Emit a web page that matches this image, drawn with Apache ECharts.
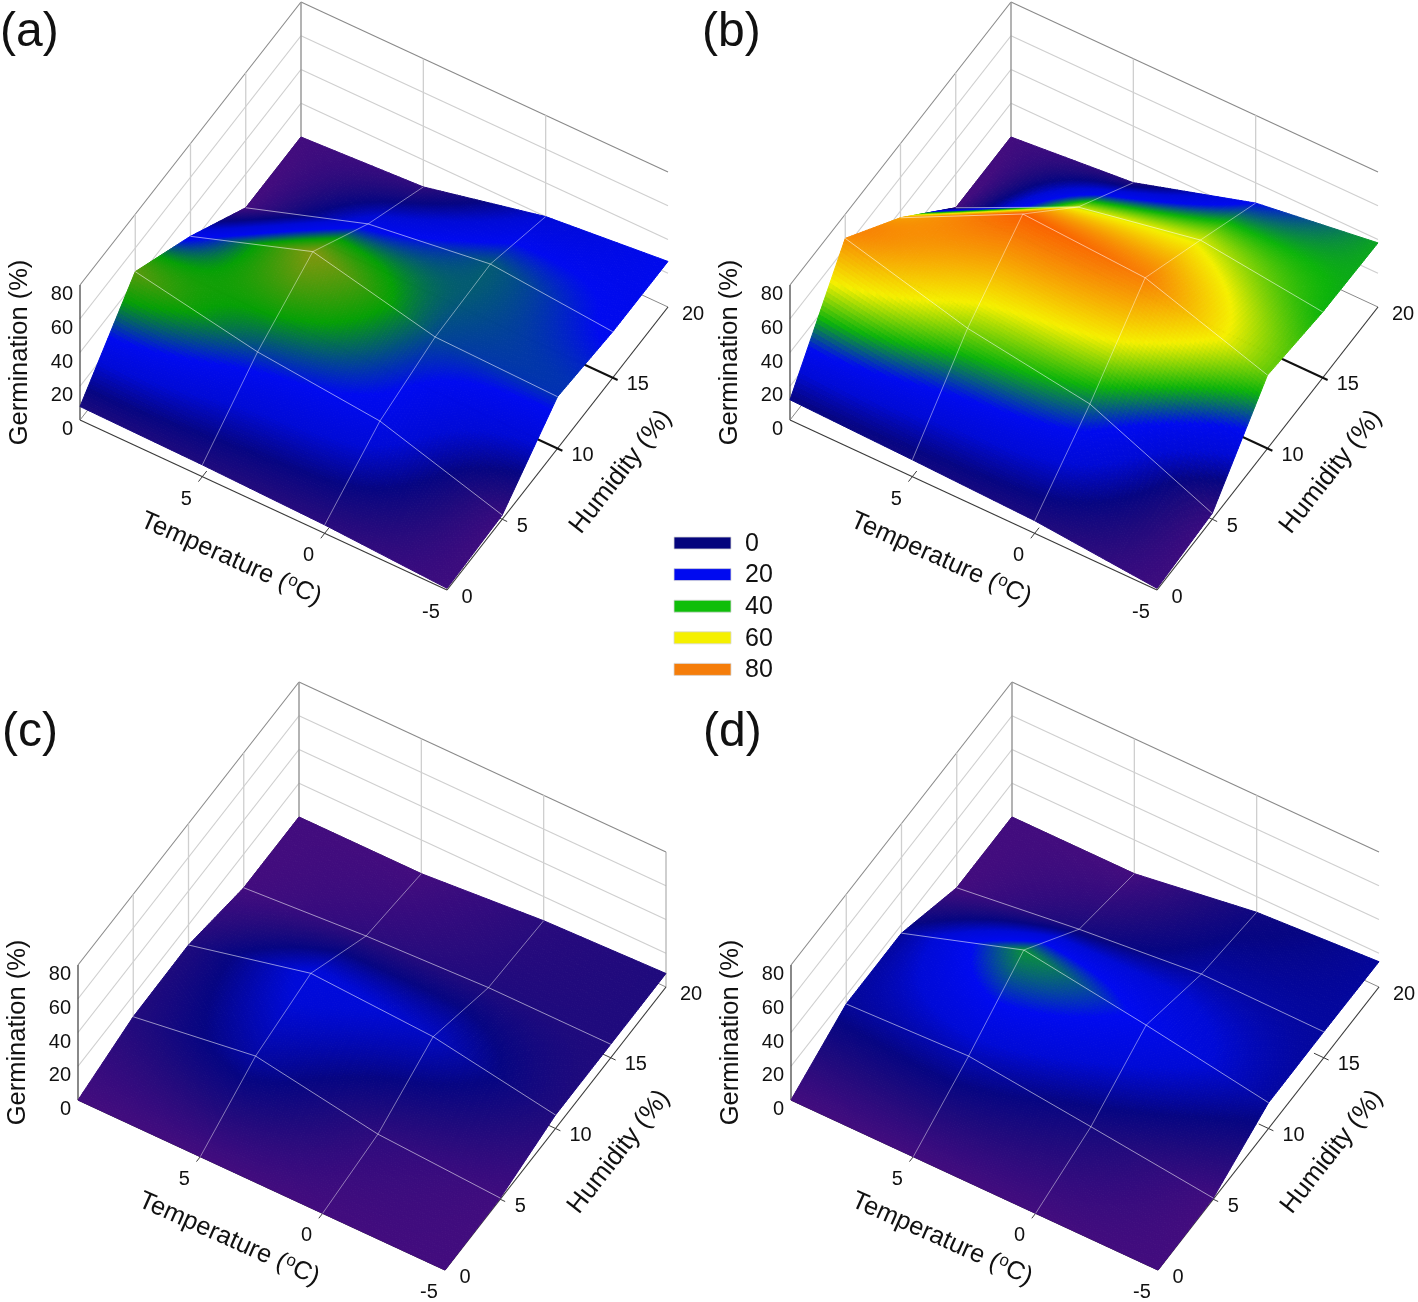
<!DOCTYPE html>
<html><head><meta charset="utf-8">
<style>html,body{margin:0;padding:0;background:#fff}#c{width:1418px;height:1302px}</style>
<script src="https://cdn.jsdelivr.net/npm/echarts@6/dist/echarts.min.js"></script>
</head><body><div id="c"></div>
<script>
const temperatures = [10, 5, 0, -5];
const humidities = [20, 15, 10, 5, 0];
const tempTicks = [5, 0, -5];
const humTicks = [0, 5, 10, 15, 20];
const germTicks = [0, 20, 40, 60, 80];
const panelNames = ['(a)', '(b)', '(c)', '(d)'];
// rows follow humidities (20 -> 0), columns follow temperatures (10 -> -5)
const germinationA = [
  [0, 4, 20, 27],
  [0, 24, 33.8, 27.3],
  [25, 49.5, 32.5, 30.7],
  [46, 32, 24.6, 2.5],
  [8, 7, 5, 1]
];
const germinationB = [
  [0, 6.5, 28, 38],
  [0, 34, 48, 39],
  [36, 71.8, 67.6, 43.5],
  [65.7, 46, 34.7, 3.5],
  [12, 10, 7.5, 1]
];
// colour shown at each node of panel (b), read separately from its height
const shadeB = [
  [0, 6.5, 28, 38],
  [0, 48, 50, 39],
  [62, 71.8, 67.6, 43.5],
  [65.7, 46, 34.7, 3.5],
  [12, 10, 7.5, 1]
];
const germinationC = [
  [0, 0, 5.7, 8],
  [0, 5, 8, 8],
  [8, 24.8, 20.8, 8],
  [7.4, 17.7, 5, 0.7],
  [0, 0, 0, 0]
];
const germinationD = [
  [0, 0, 10.7, 15],
  [0, 9, 16, 15.4],
  [15, 38.6, 27.7, 15.3],
  [15, 17.7, 9.4, 0.7],
  [0, 0, 0, 0]
];
const legendValues = [0, 20, 40, 60, 80];
const legendColors = ['#05057d', '#000af0', '#0fbe0a', '#f5f000', '#f57d0a'];

const grids = [germinationA, germinationB, germinationC, germinationD];
const shades = [germinationA, shadeB, germinationC, germinationD];
const panelOffsets = [[0, 0], [710, 0], [-2, 680], [711, 680]];
const colorGain = [1, 1, 0.86, 0.95];
const lowStops = [[0, [66, 12, 126]], [7, [30, 10, 125]], [12, [6, 5, 130]], [20, [0, 10, 215]], [28, [0, 10, 240]]];
const brightStops = lowStops.concat([[39, [12, 180, 10]], [52, [245, 240, 0]], [68, [248, 125, 5]], [72, [250, 95, 0]], [100, [240, 40, 0]]]);
const oliveStops = lowStops.concat([[39, [5, 160, 5]], [50, [135, 150, 15]], [100, [240, 40, 0]]]);
const panelStops = [oliveStops, brightStops, brightStops, brightStops];
const FONT = '"Liberation Sans", Arial, sans-serif';
const SUB = 36;
const SMOOTH = 0.4;

function project(p, T, H, G) {
  const u = (T + 5) / 15, v = H / 20, o = panelOffsets[p];
  return [447 + o[0] - 367 * u + 221 * v, 590 + o[1] - 170 * u - 283 * v - G * 135 / 80];
}
function colorOf(p, g) {
  const stops = panelStops[p];
  g = Math.max(0, g * colorGain[p]);
  for (let i = 1; i < stops.length; i++) {
    if (g <= stops[i][0]) {
      const a = stops[i - 1], b = stops[i], t = (g - a[0]) / (b[0] - a[0]);
      return 'rgb(' + [0, 1, 2].map(k => Math.round(a[1][k] + (b[1][k] - a[1][k]) * t)).join(',') + ')';
    }
  }
  return 'rgb(240,40,0)';
}
function cr(a, b, c, d, t) {
  return 0.5 * (2 * b + (c - a) * t + (2 * a - 5 * b + 4 * c - d) * t * t + (3 * b - a - 3 * c + d) * t * t * t);
}
function smoothValue(M, r, c, s, t) {
  const R = i => Math.min(M.length - 1, Math.max(0, i));
  const C = j => Math.min(M[0].length - 1, Math.max(0, j));
  const rows = [-1, 0, 1, 2].map(dr => {
    const row = M[R(r + dr)];
    return cr(row[C(c - 1)], row[C(c)], row[C(c + 1)], row[C(c + 2)], t);
  });
  return cr(rows[0], rows[1], rows[2], rows[3], s);
}
function flatValue(M, r, c, s, t) {
  return (1 - s) * ((1 - t) * M[r][c] + t * M[r][c + 1]) + s * ((1 - t) * M[r + 1][c] + t * M[r + 1][c + 1]);
}
function surfaceSeries(p) {
  const M = grids[p], S = shades[p], cells = [];
  for (let r = 0; r < humidities.length - 1; r++)
    for (let c = 0; c < temperatures.length - 1; c++) cells.push([r, c]);
  return {
    type: 'custom', coordinateSystem: 'cartesian2d', silent: true, animation: false, progressive: 0, z: 3, clip: false,
    data: cells,
    renderItem: function (params, api) {
      const r = api.value(0), c = api.value(1), kids = [];
      const H0 = humidities[r], H1 = humidities[r + 1], T0 = temperatures[c], T1 = temperatures[c + 1];
      const pt = (i, j) => {
        const s = i / SUB, t = j / SUB;
        return api.coord(project(p, T0 + (T1 - T0) * t, H0 + (H1 - H0) * s, flatValue(M, r, c, s, t)));
      };
      for (let i = 0; i < SUB; i++) for (let j = 0; j < SUB; j++) {
        const s = (i + .5) / SUB, t = (j + .5) / SUB;
        const v = SMOOTH * smoothValue(S, r, c, s, t) + (1 - SMOOTH) * flatValue(S, r, c, s, t);
        const col = colorOf(p, v);
        kids.push({
          type: 'polygon', shape: { points: [pt(i, j), pt(i, j + 1), pt(i + 1, j + 1), pt(i + 1, j)] },
          style: { fill: col, stroke: col, lineWidth: 1 }, silent: true
        });
      }
      return { type: 'group', children: kids };
    }
  };
}
function lineSeries(z, list) {
  return {
    type: 'custom', coordinateSystem: 'cartesian2d', silent: true, animation: false, progressive: 0, z: z, clip: false,
    data: list.map((_, i) => [i]),
    renderItem: function (params, api) {
      const l = list[api.value(0)];
      const a = api.coord(project(l.p, l.a[0], l.a[1], l.a[2])), b = api.coord(project(l.p, l.b[0], l.b[1], l.b[2]));
      return {
        type: 'line', shape: { x1: a[0], y1: a[1], x2: b[0], y2: b[1] },
        style: { stroke: l.c, lineWidth: l.w, lineCap: 'butt' }, silent: true
      };
    }
  };
}
const under = [], over = [];
function add(list, p, a, b, c, w) { list.push({ p, a, b, c, w }); }
const Tb = 10, Tf = -5, H0 = 0, Hb = 20, Gt = 80;
panelNames.forEach((_, p) => {
  const wall = '#cfcfcf', rim = '#8a8a8a', dark = '#3a3a3a';
  [20, 40, 60].forEach(g => {
    add(under, p, [Tb, H0, g], [Tb, Hb, g], wall, 1.2);
    add(under, p, [Tb, Hb, g], [Tf, Hb, g], wall, 1.2);
  });
  add(under, p, [Tb, H0, Gt], [Tb, Hb, Gt], rim, 1.1);
  add(under, p, [Tb, Hb, Gt], [Tf, Hb, Gt], rim, 1.1);
  [5, 10, 15].forEach(h => add(under, p, [Tb, h, 0], [Tb, h, Gt], wall, 1.3));
  [5, 0].forEach(t => add(under, p, [t, Hb, 0], [t, Hb, Gt], wall, 1.3));
  add(under, p, [Tb, Hb, 0], [Tb, Hb, Gt], '#9a9a9a', 1.5);
  add(under, p, [Tb, H0, 0], [Tb, H0, Gt], dark, 1.2);
  if (p === 2) add(under, p, [Tf, Hb, 0], [Tf, Hb, Gt], '#a8a8a8', 1.1);
  add(under, p, [Tb, H0, 0], [Tb, Hb, 0], rim, 1);
  add(under, p, [Tb, Hb, 0], [Tf, Hb, 0], rim, 1);
  add(under, p, [Tb, H0, 0], [Tf, H0, 0], dark, 1.2);
  add(under, p, [Tf, H0, 0], [Tf, Hb, 0], dark, 1.2);
  [10, 15].forEach(h => {
    if (p < 2) add(under, p, [Tb, h, 0], [Tf - 0.2, h, 0], '#111', 2);
    else add(under, p, [Tf + 0.4, h, 0], [Tf - 0.2, h, 0], dark, 1);
  });
  add(under, p, [Tf + 0.3, 5, 0], [Tf - 0.2, 5, 0], dark, 1);
  [5, 0].forEach(t => add(under, p, [t, H0 - 0.35, 0], [t, H0 + 0.4, 0], dark, 1));
  const M = grids[p];
  humidities.forEach((h, r) => {
    if (h === 0 || h === 20) return;
    for (let c = 0; c < temperatures.length - 1; c++)
      add(over, p, [temperatures[c], h, M[r][c]], [temperatures[c + 1], h, M[r][c + 1]], 'rgba(255,255,255,0.55)', 1);
  });
  temperatures.forEach((t, c) => {
    if (t === 10 || t === -5) return;
    for (let r = 0; r < humidities.length - 1; r++)
      add(over, p, [t, humidities[r], M[r][c]], [t, humidities[r + 1], M[r + 1][c]], 'rgba(255,255,255,0.45)', 1);
  });
});

const labels = [];
panelNames.forEach((name, p) => {
  const o = panelOffsets[p];
  labels.push({ text: name, abs: [[0, 702, 2, 703][p], [33, 33, 733, 733][p]], size: 48, align: 'left' });
  germTicks.forEach(g => { const q = project(p, 10, 0, g); labels.push({ text: String(g), abs: [q[0] - 7, q[1] + 9.5], size: 20, align: 'right' }); });
  tempTicks.forEach(t => { const q = project(p, t, 0, 0); labels.push({ text: String(t), abs: [q[0] - 16, q[1] + 22.5], size: 20, align: 'center' }); });
  humTicks.forEach(h => { const q = project(p, -5, h, 0); labels.push({ text: String(h), abs: [q[0] + (h < 10 ? 20 : 25), q[1] + 7], size: 20, align: 'center' }); });
  labels.push({ text: 'Germination (%)', abs: [20 + o[0], 352.5 + o[1]], size: 25.5, align: 'center', rot: 90 });
  labels.push({ text: 'Humidity (%)', abs: [621 + o[0], 472 + o[1]], size: 26, align: 'center', rot: 52 });
  labels.push({ text: 'Temperature ({s|o}C)', abs: [231 + o[0], 559 + o[1]], size: 25.5, align: 'center', rot: -24, rich: { s: { fontSize: 17, fontFamily: FONT, fill: '#111', verticalAlign: 'top', lineHeight: 27 } } });
});
legendValues.forEach((v, i) => labels.push({ text: String(v), abs: [745, 544 + i * 31.6], size: 25, align: 'left' }));

const option = {
  backgroundColor: '#fff', animation: false,
  grid: { left: 0, right: 0, top: 0, bottom: 0, containLabel: false },
  xAxis: { type: 'value', min: 0, max: 1418, show: false },
  yAxis: { type: 'value', min: 0, max: 1302, inverse: true, show: false },
  series: [
    lineSeries(1, under),
    surfaceSeries(0), surfaceSeries(1), surfaceSeries(2), surfaceSeries(3),
    lineSeries(4, over),
    {
      type: 'custom', coordinateSystem: 'cartesian2d', silent: true, animation: false, z: 5, clip: false,
      data: legendValues.map((v, i) => [i]),
      renderItem: function (params, api) {
        const i = api.value(0), a = api.coord([674, 537 + i * 31.6]), b = api.coord([731, 549 + i * 31.6]);
        return { type: 'rect', shape: { x: a[0], y: a[1], width: b[0] - a[0], height: b[1] - a[1] },
          style: { fill: legendColors[i], stroke: '#d8d8d8', lineWidth: 0.8 } };
      }
    },
    {
      type: 'custom', coordinateSystem: 'cartesian2d', silent: true, animation: false, z: 6, clip: false,
      data: labels.map((_, i) => [i]),
      renderItem: function (params, api) {
        const l = labels[api.value(0)], q = api.coord(l.abs);
        return { type: 'text', x: q[0], y: q[1], rotation: (l.rot || 0) * Math.PI / 180,
          style: { text: l.text, rich: l.rich, fontFamily: FONT, fontSize: l.size, fill: '#111', align: l.align, verticalAlign: 'middle' } };
      }
    }
  ]
};
const chart = echarts.init(document.getElementById('c'), null, { renderer: 'canvas' });
chart.setOption(option);
</script></body></html>
